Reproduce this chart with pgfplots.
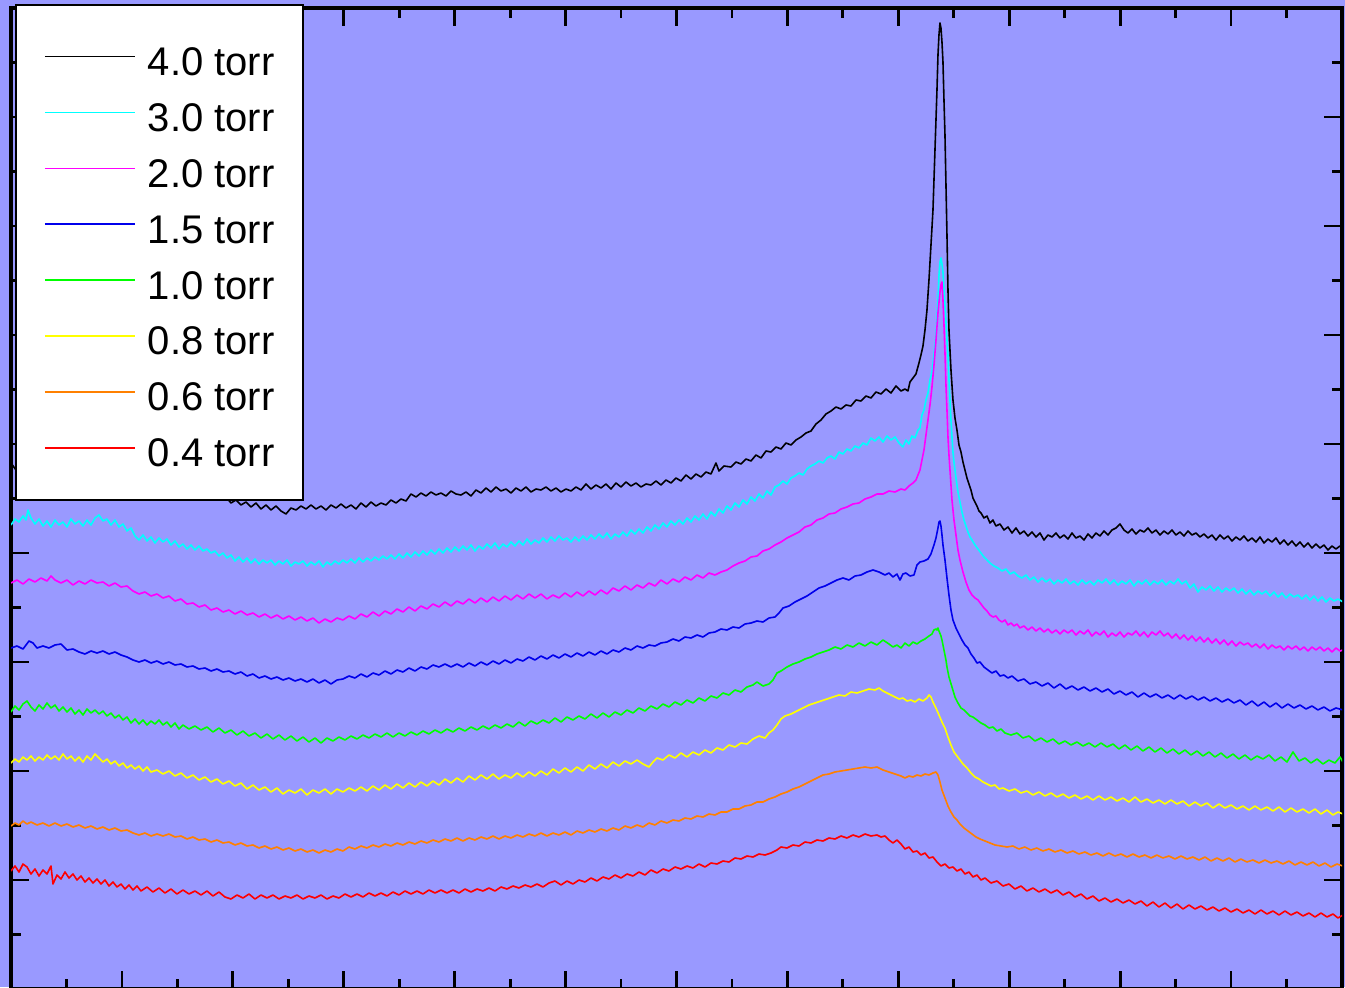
\documentclass[border=0pt]{standalone}
\usepackage{pgfplots}
\pgfplotsset{compat=1.18}
\usepackage{pgfplotstable}
\usepackage{fontspec}
\setmainfont{Liberation Sans}
\definecolor{bgc}{RGB}{153,153,255}
\definecolor{cOr}{RGB}{255,128,0}
\definecolor{cBl}{RGB}{0,0,235}
\definecolor{cCy}{RGB}{0,255,255}
\definecolor{cMa}{RGB}{255,0,255}
\definecolor{cGr}{RGB}{0,255,0}
\definecolor{cYe}{RGB}{255,255,0}
\definecolor{cRe}{RGB}{255,0,0}

\pgfplotstableread{
px py
11 463
16 470
30 474
50 479
80 484
120 489
160 494
200 498
221 500
226 497
231 503
236 500
241 505
246 502
251 507
256 503
261 509
266 505
271 510
276 506
281 511
286 514
291 508
296 510
301 506
306 509
311 505
316 509
321 506
326 510
331 505
336 508
341 504
346 508
351 505
356 509
361 503
366 507
371 502
376 506
381 503
386 505
391 500
396 503
401 499
406 501
411 494
416 497
421 493
426 496
431 492
436 495
441 493
446 496
451 491
456 494
461 495
466 492
471 496
476 490
481 493
486 488
491 492
496 487
501 491
506 489
511 493
516 488
521 491
526 487
531 492
536 489
541 490
546 487
551 491
556 488
561 492
566 489
571 491
576 487
581 490
586 484
591 489
596 485
601 488
606 484
611 489
616 483
621 487
626 482
631 486
636 483
641 487
646 484
651 485
656 481
661 485
666 480
671 483
676 478
681 481
686 475
691 479
696 474
701 477
706 472
711 474
716 463
719 471
724 466
731 467
736 462
741 464
746 459
751 461
756 455
761 458
766 451
771 452
776 447
781 449
786 443
791 445
796 440
801 437
806 433
811 431
816 424
821 420
826 414
831 411
836 407
841 409
846 405
851 406
856 400
861 401
866 396
871 398
876 392
881 394
886 389
891 393
896 386
901 391
905 389
908 391
910 382
913 378
916 374
919 363
921 355
923 346
925 330
927 310
929 280
931 245
933 210
935 150
937 90
938 55
939 35
940 23
941 28
942 42
943 62
944 100
945 135
946 185
947 235
948 290
949 330
951 370
953 400
955 418
957 430
959 445
961 452
963 462
965 470
967 478
969 484
971 490
973 498
975 502
977 506
979 511
981 513
984 518
987 516
990 523
993 520
996 526
1000 524
1004 530
1008 527
1012 533
1016 528
1020 534
1024 531
1028 536
1032 532
1036 537
1040 533
1044 540
1048 535
1052 537
1056 533
1060 538
1064 535
1068 539
1072 533
1076 538
1080 536
1084 540
1088 534
1092 538
1096 533
1100 536
1104 531
1108 535
1112 530
1116 528
1120 524
1124 530
1128 533
1132 529
1136 534
1140 530
1144 532
1148 528
1152 533
1156 530
1160 535
1164 531
1168 534
1172 530
1176 535
1180 532
1184 536
1188 531
1192 535
1196 533
1200 537
1204 534
1208 538
1212 535
1216 540
1220 535
1224 539
1228 536
1232 541
1236 537
1240 540
1244 536
1248 541
1252 538
1256 542
1260 537
1264 543
1268 539
1272 542
1276 538
1280 544
1284 540
1288 545
1292 541
1296 546
1300 542
1304 547
1308 543
1312 548
1316 544
1320 548
1324 545
1328 550
1332 546
1336 549
1340 546
1343 548
}\tblack

\pgfplotstableread{
px py
11 525
15 519
19 522
23 516
26 520
28 510
31 518
35 524
39 519
43 526
47 521
51 527
55 520
59 525
63 522
67 527
71 519
75 524
79 521
83 526
87 520
91 525
95 518
99 515
103 521
107 519
111 525
115 520
119 527
123 524
127 531
131 528
135 536
139 540
143 535
147 541
151 537
155 543
159 538
163 542
167 539
171 545
175 541
179 547
183 544
187 549
191 545
195 550
199 546
203 551
207 549
211 553
215 551
219 556
223 553
227 558
231 555
235 561
239 557
243 562
247 558
251 563
255 559
259 564
263 560
267 563
271 560
275 565
279 561
283 564
287 560
291 566
295 562
299 564
303 561
307 566
311 562
315 565
319 561
323 567
327 562
331 565
335 561
339 564
343 560
347 563
351 559
355 563
359 558
363 562
367 558
371 561
375 557
379 560
383 556
387 559
391 555
395 559
399 554
403 558
407 553
411 557
415 552
419 556
423 551
427 555
431 550
435 554
439 549
443 553
447 548
451 552
455 547
459 551
463 546
467 550
471 545
475 551
479 546
483 549
487 544
491 548
495 543
499 549
503 544
507 547
511 542
515 546
519 541
523 545
527 539
531 544
535 540
539 543
543 538
547 542
551 537
555 541
559 536
563 540
567 538
571 542
575 537
579 541
583 536
587 540
591 535
595 539
599 534
603 538
607 533
611 539
615 534
619 537
623 532
627 536
631 530
635 534
639 529
643 533
647 527
651 531
655 525
659 529
663 523
667 527
671 521
675 525
679 520
683 524
687 518
691 522
695 516
699 520
703 514
707 519
711 512
715 516
719 509
723 513
727 506
731 510
735 503
739 507
743 500
747 504
751 497
755 501
759 494
763 498
767 491
771 495
775 487
779 485
783 481
787 484
791 478
795 476
799 473
803 475
807 469
811 466
815 464
819 461
823 463
827 458
831 456
835 459
839 452
843 454
847 449
851 451
855 446
859 448
863 443
867 445
871 438
875 441
879 437
883 442
887 436
891 440
895 437
899 443
903 447
906 440
909 444
912 436
915 438
918 430
920 428
922 415
924 410
926 400
928 393
930 380
932 372
934 355
936 335
938 300
939 275
940 262
941 258
942 264
943 272
944 290
945 305
946 322
947 340
948 355
949 380
950 400
951 420
952 437
953 452
954 462
956 478
958 492
960 502
962 512
964 520
966 526
968 532
970 537
972 540
975 545
978 549
981 553
984 557
987 560
990 563
994 566
998 568
1002 571
1006 569
1010 574
1014 572
1018 576
1022 578
1026 575
1030 580
1034 577
1038 582
1042 578
1046 582
1050 579
1054 584
1058 580
1062 583
1066 579
1070 584
1074 581
1078 585
1082 580
1086 584
1090 581
1094 585
1098 580
1102 583
1106 579
1110 584
1114 580
1118 585
1122 581
1126 584
1130 580
1134 586
1138 581
1142 584
1146 580
1150 585
1154 581
1158 584
1162 580
1166 585
1170 581
1174 584
1178 579
1182 584
1186 581
1190 588
1194 584
1198 592
1202 587
1206 590
1210 586
1214 591
1218 587
1222 592
1226 588
1230 591
1234 588
1238 593
1242 589
1246 594
1250 590
1254 595
1258 591
1262 594
1266 591
1270 596
1274 592
1278 597
1282 593
1286 598
1290 594
1294 597
1298 595
1302 599
1306 595
1310 600
1314 596
1318 601
1322 597
1326 602
1330 598
1334 601
1338 599
1343 602
}\tcyan

\pgfplotstableread{
px py
11 583
17 580
23 584
29 579
35 582
41 578
47 581
51 576
55 580
61 583
67 580
73 585
79 581
85 584
91 580
97 583
103 582
109 586
115 583
121 587
127 586
133 591
139 594
145 592
151 596
157 594
163 598
169 596
175 601
181 599
187 604
193 603
199 607
205 605
211 610
217 608
223 612
229 610
235 614
241 611
247 615
253 613
259 617
265 614
271 618
277 615
283 619
289 616
295 620
301 617
307 621
313 618
319 623
325 619
331 622
337 618
343 620
349 616
355 619
361 614
367 617
373 612
379 616
385 611
391 614
397 609
403 612
409 607
415 611
421 606
427 609
433 604
439 607
445 602
451 606
457 601
463 604
469 599
475 603
481 598
487 602
493 597
499 601
505 596
511 600
517 595
523 599
529 594
535 598
541 594
547 599
553 595
559 598
565 593
571 597
577 592
583 596
589 591
595 595
601 590
607 594
613 588
619 591
625 586
631 590
637 585
643 588
649 583
655 586
661 580
667 584
673 579
679 582
685 577
691 580
697 575
703 578
709 573
715 575
721 572
727 570
733 566
739 563
745 561
751 557
757 556
763 551
769 549
775 545
781 542
787 538
793 535
799 532
805 527
811 525
817 520
823 518
829 514
835 513
841 509
847 507
853 504
859 503
865 499
871 497
877 494
883 494
889 491
895 492
901 489
905 490
909 486
913 483
916 480
918 475
920 470
922 460
924 450
926 435
928 420
930 405
932 387
934 365
936 340
938 313
940 292
941 285
942 282
943 300
944 325
945 353
946 385
947 410
948 437
949 455
950 470
952 500
954 520
956 535
958 550
960 560
963 572
966 582
969 590
972 595
975 598
978 600
981 604
984 608
987 611
990 615
993 617
996 616
999 620
1002 622
1005 620
1008 625
1011 623
1014 626
1017 624
1020 628
1024 626
1028 630
1032 627
1036 631
1040 628
1044 632
1048 629
1052 633
1056 630
1060 634
1064 630
1068 633
1072 630
1076 635
1080 631
1084 634
1088 630
1092 636
1096 632
1100 635
1104 631
1108 637
1112 633
1116 636
1120 632
1124 637
1128 633
1132 635
1136 631
1140 636
1144 632
1148 637
1152 632
1156 635
1160 631
1164 636
1168 633
1172 638
1176 634
1180 639
1184 635
1188 640
1192 636
1196 641
1200 637
1204 642
1208 638
1212 643
1216 639
1220 644
1224 640
1228 645
1232 641
1236 646
1240 642
1244 645
1248 643
1252 647
1256 644
1260 648
1264 644
1268 649
1272 645
1276 648
1280 646
1284 650
1288 646
1292 649
1296 646
1300 650
1304 647
1308 651
1312 647
1316 650
1320 647
1324 651
1328 648
1332 652
1336 648
1340 651
1343 650
}\tmag

\pgfplotstableread{
px py
11 648
17 646
23 649
29 641
33 643
37 648
43 646
49 648
55 645
61 644
67 650
73 649
79 652
85 654
91 651
97 653
103 651
109 654
115 652
121 655
127 657
133 660
139 662
145 660
151 663
157 661
163 664
169 662
175 665
181 664
187 667
193 666
199 669
205 668
211 671
217 669
223 672
229 671
235 674
241 672
247 676
253 674
259 678
265 676
271 679
277 677
283 680
289 678
295 681
301 679
307 682
313 679
319 683
325 680
331 684
337 680
343 679
349 676
355 678
361 674
367 677
373 673
379 675
385 671
391 674
397 670
403 672
409 668
415 671
421 667
427 669
433 665
439 667
445 664
451 667
457 664
463 667
469 663
475 666
481 662
487 665
493 661
499 664
505 660
511 663
517 659
523 661
529 657
535 660
541 656
547 659
553 655
559 658
565 654
571 657
577 653
583 656
589 652
595 655
601 651
607 654
613 650
619 652
625 648
631 650
637 646
643 648
649 645
655 646
661 643
667 642
673 639
679 641
685 637
691 638
697 635
703 637
709 633
715 632
721 629
727 630
733 627
739 628
745 624
751 623
757 621
763 622
769 618
775 617
779 613
783 608
789 606
795 602
801 599
807 596
813 592
819 588
825 586
831 583
837 580
843 578
849 580
855 576
861 575
867 572
873 570
879 572
885 575
889 573
893 577
897 574
900 580
903 574
906 573
910 576
914 575
917 565
920 562
924 561
928 559
931 554
934 545
936 538
938 528
939 522
940 521
941 526
942 535
943 545
945 560
947 578
949 595
951 610
953 620
956 628
959 634
962 640
965 645
968 648
971 654
974 658
977 663
980 662
984 667
988 670
992 673
996 671
1000 676
1004 675
1008 678
1012 676
1018 681
1024 679
1030 684
1036 682
1042 686
1048 683
1054 688
1060 684
1066 689
1072 686
1078 690
1084 687
1090 691
1096 688
1102 692
1108 689
1114 694
1120 691
1126 695
1132 692
1138 697
1144 693
1150 697
1156 694
1162 698
1168 695
1174 699
1180 695
1186 699
1192 696
1198 700
1204 697
1210 701
1216 698
1222 702
1228 699
1234 703
1240 700
1246 705
1252 701
1258 706
1264 702
1270 707
1276 703
1282 708
1288 704
1294 708
1300 705
1306 709
1312 706
1318 710
1324 707
1330 711
1336 708
1343 710
}\tblue

\pgfplotstableread{
px py
11 712
15 706
19 710
23 704
27 701
31 707
35 711
39 705
43 709
47 703
51 708
55 705
59 711
63 707
67 712
71 708
75 714
79 710
83 715
87 709
91 713
95 710
99 714
103 711
107 716
111 713
115 718
119 715
123 720
127 717
131 723
135 719
139 724
143 720
147 725
151 721
155 724
159 720
163 725
167 722
171 727
175 723
179 729
183 725
189 729
195 726
201 730
207 727
213 732
219 728
225 733
231 730
237 735
243 731
249 736
255 733
261 738
267 734
273 739
279 735
285 740
291 736
297 741
303 737
309 742
315 738
321 743
327 738
333 741
339 737
345 740
351 736
357 739
363 735
369 738
375 734
381 737
387 733
393 737
399 733
405 736
411 732
417 735
423 731
429 734
435 730
441 733
447 729
453 732
459 728
465 731
471 727
477 730
483 726
489 729
495 725
501 728
507 724
513 727
519 722
525 726
531 721
537 724
543 720
549 723
555 718
561 722
567 717
573 720
579 716
585 719
591 714
597 718
603 713
609 717
615 712
621 715
627 710
633 713
639 708
645 711
651 706
657 709
663 704
669 707
675 702
681 705
687 700
693 703
699 698
705 701
711 696
717 698
723 693
729 695
735 690
741 692
747 687
753 685
757 682
763 686
769 684
773 680
777 673
781 671
787 667
793 664
799 662
805 659
811 657
817 654
823 652
829 650
835 647
841 649
847 645
853 647
859 643
865 646
871 642
877 645
883 640
889 644
893 647
897 645
901 648
905 643
909 646
913 642
917 644
921 641
925 639
929 636
932 634
934 630
936 629
937 630
938 628
939 631
941 636
942 640
944 650
946 660
947 667
949 677
952 687
955 697
958 703
961 708
964 710
967 713
970 716
973 717
977 720
981 723
985 725
989 728
993 727
997 731
1001 729
1005 733
1011 735
1017 733
1023 738
1029 736
1035 741
1041 738
1047 742
1053 739
1059 744
1065 741
1071 745
1077 742
1083 746
1089 743
1095 747
1101 743
1107 747
1113 744
1119 749
1125 745
1131 750
1137 746
1143 751
1149 747
1155 752
1161 748
1167 753
1173 749
1179 754
1185 750
1191 755
1197 751
1203 756
1209 752
1215 757
1221 753
1227 758
1233 754
1239 759
1245 755
1251 760
1257 756
1263 759
1269 755
1275 761
1281 757
1287 762
1293 752
1299 761
1305 758
1311 763
1317 759
1323 764
1329 760
1335 763
1340 757
1343 762
}\tgreen

\pgfplotstableread{
px py
11 763
15 759
19 762
23 757
27 760
31 756
35 761
39 757
43 760
47 755
51 759
55 756
59 760
63 754
67 759
71 756
75 761
79 757
83 762
87 756
91 760
95 754
99 758
103 762
107 759
111 764
115 761
119 766
123 763
127 768
131 765
135 769
139 766
143 771
147 767
151 772
157 770
163 774
169 771
175 776
181 773
187 778
193 775
199 780
205 777
211 782
217 779
223 784
229 781
235 786
241 783
247 789
253 785
259 790
265 787
271 792
277 788
283 794
289 790
295 793
301 789
307 795
313 790
319 793
325 789
331 794
337 789
343 792
349 788
355 791
361 787
367 791
373 786
379 790
385 785
391 789
397 784
403 788
409 783
415 787
421 782
427 786
433 781
439 785
445 779
451 783
457 778
463 782
469 776
475 780
481 775
487 779
493 774
499 779
505 775
511 778
517 773
523 777
529 772
535 776
541 771
547 775
553 769
559 773
565 768
571 772
577 767
583 771
589 765
595 769
601 764
607 768
613 762
619 766
625 761
631 764
637 760
643 764
649 767
653 762
657 758
663 760
669 755
675 758
681 753
687 757
693 752
699 755
705 750
711 753
717 748
723 750
729 745
735 747
741 743
747 744
753 739
759 736
765 738
769 733
773 730
777 725
781 719
785 716
791 714
797 711
803 708
809 705
815 703
821 701
827 699
833 697
839 695
845 696
851 692
857 693
863 691
869 689
875 690
879 688
883 691
887 693
891 695
895 697
899 699
903 698
907 701
911 700
915 702
919 699
923 701
927 698
929 695
931 697
933 702
936 708
939 715
942 722
945 728
948 737
951 745
954 752
957 756
960 760
963 764
967 768
971 773
975 777
979 779
983 782
987 784
991 786
995 785
999 789
1003 788
1009 791
1015 789
1021 793
1027 791
1033 795
1039 792
1045 796
1051 793
1057 797
1063 794
1069 798
1075 795
1081 799
1087 796
1093 800
1099 796
1105 800
1111 797
1117 801
1123 798
1129 802
1135 797
1141 802
1147 799
1153 803
1159 800
1165 804
1171 800
1177 804
1183 801
1189 806
1195 802
1201 806
1207 803
1213 808
1219 804
1225 808
1231 805
1237 809
1243 806
1249 810
1255 806
1261 810
1267 807
1273 811
1279 807
1285 812
1291 808
1297 812
1303 809
1309 813
1315 809
1321 814
1327 810
1333 815
1338 812
1343 814
}\tyellow

\pgfplotstableread{
px py
11 826
15 823
19 825
23 821
27 824
31 822
37 825
43 823
49 826
55 823
61 826
67 824
73 827
79 825
85 828
91 826
97 829
103 827
109 830
115 828
121 831
127 830
133 833
139 835
145 833
151 836
157 834
163 836
169 834
175 837
181 836
187 839
193 837
199 840
205 839
211 842
217 840
223 843
229 842
235 845
241 843
247 846
253 845
259 848
265 846
271 849
277 847
283 850
289 848
295 851
301 849
307 852
313 850
319 853
325 850
331 852
337 849
343 851
349 847
355 849
361 846
367 848
373 845
379 847
385 844
391 846
397 843
403 845
409 842
415 844
421 841
427 843
433 840
439 842
445 839
451 841
457 838
463 841
469 838
475 840
481 837
487 839
493 836
499 839
505 836
511 838
517 835
523 837
529 834
535 836
541 833
547 836
553 833
559 835
565 832
571 835
577 831
583 833
589 830
595 832
601 829
607 831
613 828
619 830
625 826
631 828
637 825
643 827
649 823
655 825
661 821
667 823
673 820
679 821
685 818
691 819
697 816
703 817
709 814
715 815
721 812
727 812
733 809
739 809
745 806
751 805
757 802
763 802
769 799
775 797
781 794
787 792
793 789
799 787
805 784
811 781
817 778
823 775
829 774
835 772
841 771
847 770
853 769
859 768
865 767
871 768
877 767
883 770
889 772
895 774
901 776
905 778
909 776
913 777
917 775
921 776
925 774
929 775
933 773
936 772
938 775
940 782
942 790
945 798
948 806
951 812
954 817
957 820
960 824
964 828
968 831
972 834
976 837
980 839
985 841
990 843
995 845
1001 846
1007 847
1013 846
1019 849
1025 847
1031 850
1037 848
1043 851
1049 849
1055 852
1061 850
1067 853
1073 851
1079 854
1085 852
1091 855
1097 853
1103 856
1109 853
1115 856
1121 854
1127 857
1133 854
1139 857
1145 855
1151 858
1157 855
1163 858
1169 856
1175 859
1181 856
1187 859
1193 857
1199 860
1205 857
1211 861
1217 858
1223 861
1229 858
1235 862
1241 859
1247 862
1253 860
1259 863
1265 860
1271 863
1277 861
1283 864
1289 861
1295 865
1301 862
1307 865
1313 862
1319 866
1325 863
1331 867
1337 864
1343 866
}\torange

\pgfplotstableread{
px py
11 871
15 866
19 872
23 864
27 867
31 874
35 869
39 876
43 870
47 874
51 866
53 884
57 875
61 879
65 872
69 878
73 874
77 880
81 876
85 882
89 878
93 883
97 879
101 884
105 880
109 886
113 882
117 887
121 884
125 889
129 885
133 890
137 886
141 891
147 887
153 892
159 888
165 893
171 889
177 894
183 890
189 894
195 891
201 895
207 891
213 896
219 892
225 897
231 899
237 895
243 898
249 894
255 899
261 895
267 898
273 895
279 899
285 896
291 898
297 895
303 899
309 896
315 898
321 895
327 899
333 896
339 898
345 894
351 897
357 894
363 897
369 893
375 896
381 893
387 896
393 892
399 895
405 891
411 894
417 891
423 894
429 890
435 893
441 890
447 893
453 890
459 893
465 889
471 892
477 889
483 891
489 888
495 891
501 887
507 889
513 886
519 888
525 885
531 887
537 884
543 887
549 883
555 881
561 885
567 881
573 884
579 880
585 882
591 878
597 881
603 877
609 879
615 875
621 878
627 874
633 876
639 872
645 875
651 870
657 873
663 869
669 871
675 867
681 869
687 866
693 868
699 864
705 867
711 863
717 864
723 861
729 862
735 858
741 859
747 856
753 857
759 854
765 855
771 853
777 850
781 847
787 848
793 845
799 846
805 842
811 843
817 840
823 841
829 838
835 839
841 836
847 838
853 835
859 837
865 834
871 836
877 835
881 837
885 836
889 840
893 843
897 840
901 844
905 849
909 847
913 852
917 851
921 855
925 853
929 858
933 857
937 862
941 866
945 864
949 868
953 867
957 871
961 869
965 874
969 872
973 877
977 875
981 880
985 878
991 883
997 881
1003 886
1009 884
1015 889
1021 886
1027 891
1033 888
1039 892
1045 889
1051 893
1057 890
1063 895
1069 892
1075 897
1081 894
1087 899
1093 896
1099 901
1105 898
1111 902
1117 899
1123 903
1129 900
1135 904
1141 901
1147 906
1153 902
1159 907
1165 903
1171 908
1177 904
1183 909
1189 905
1195 909
1201 906
1207 910
1213 907
1219 911
1225 908
1231 912
1237 909
1243 913
1249 910
1255 914
1261 910
1267 914
1273 911
1279 915
1285 911
1291 915
1297 912
1303 916
1309 913
1315 917
1321 913
1327 917
1333 914
1338 918
1343 915
}\tred

\begin{document}
\begin{tikzpicture}
\fill[bgc] (-5.5pt,1pt) rectangle (667pt,494.5pt);
\begin{axis}[
  at={(0,0)}, anchor=south west,
  scale only axis, width=665.5pt, height=490.5pt,
  xmin=0, xmax=12, ymin=0, ymax=9,
  xtick={0,...,12}, ytick={0,...,9},
  minor x tick num=1, minor y tick num=1,
  xticklabels={}, yticklabels={},
  tick align=inside, xtick pos=both, ytick pos=both,
  major tick length=9pt, minor tick length=5pt,
  every tick/.append style={black, line width=1.4pt},
  axis line style={line width=1.6pt},
  axis background/.style={fill=bgc},
  legend cell align=left,
  legend style={at={(0,1)}, anchor=north west, xshift=1.8pt, yshift=2.2pt,
    draw=black, line width=1pt, fill=white,
    inner xsep=14.3pt, inner ysep=12pt, row sep=0pt, column sep=6pt,
    font=\fontsize{20}{24}\selectfont,
    nodes={inner sep=0pt, text height=23.47pt, text depth=4.47pt}},
  legend image code/.code={\draw[#1] (0pt,0pt) -- (45pt,0pt);},
  every axis plot/.append style={line width=0.8pt, line join=round},
]
\addplot[black] table[x expr=(\thisrow{px}-11)/110.92, y expr=(989-\thisrow{py})/109] {\tblack};
\addlegendentry{4.0 torr}
\addplot[cCy] table[x expr=(\thisrow{px}-11)/110.92, y expr=(989-\thisrow{py})/109] {\tcyan};
\addlegendentry{3.0 torr}
\addplot[cMa] table[x expr=(\thisrow{px}-11)/110.92, y expr=(989-\thisrow{py})/109] {\tmag};
\addlegendentry{2.0 torr}
\addplot[cBl] table[x expr=(\thisrow{px}-11)/110.92, y expr=(989-\thisrow{py})/109] {\tblue};
\addlegendentry{1.5 torr}
\addplot[cGr] table[x expr=(\thisrow{px}-11)/110.92, y expr=(989-\thisrow{py})/109] {\tgreen};
\addlegendentry{1.0 torr}
\addplot[cYe] table[x expr=(\thisrow{px}-11)/110.92, y expr=(989-\thisrow{py})/109] {\tyellow};
\addlegendentry{0.8 torr}
\addplot[cOr] table[x expr=(\thisrow{px}-11)/110.92, y expr=(989-\thisrow{py})/109] {\torange};
\addlegendentry{0.6 torr}
\addplot[cRe] table[x expr=(\thisrow{px}-11)/110.92, y expr=(989-\thisrow{py})/109] {\tred};
\addlegendentry{0.4 torr}
\end{axis}
\pgfresetboundingbox
\useasboundingbox (-5.5pt,1pt) rectangle (667pt,494.5pt);
\end{tikzpicture}
\end{document}
